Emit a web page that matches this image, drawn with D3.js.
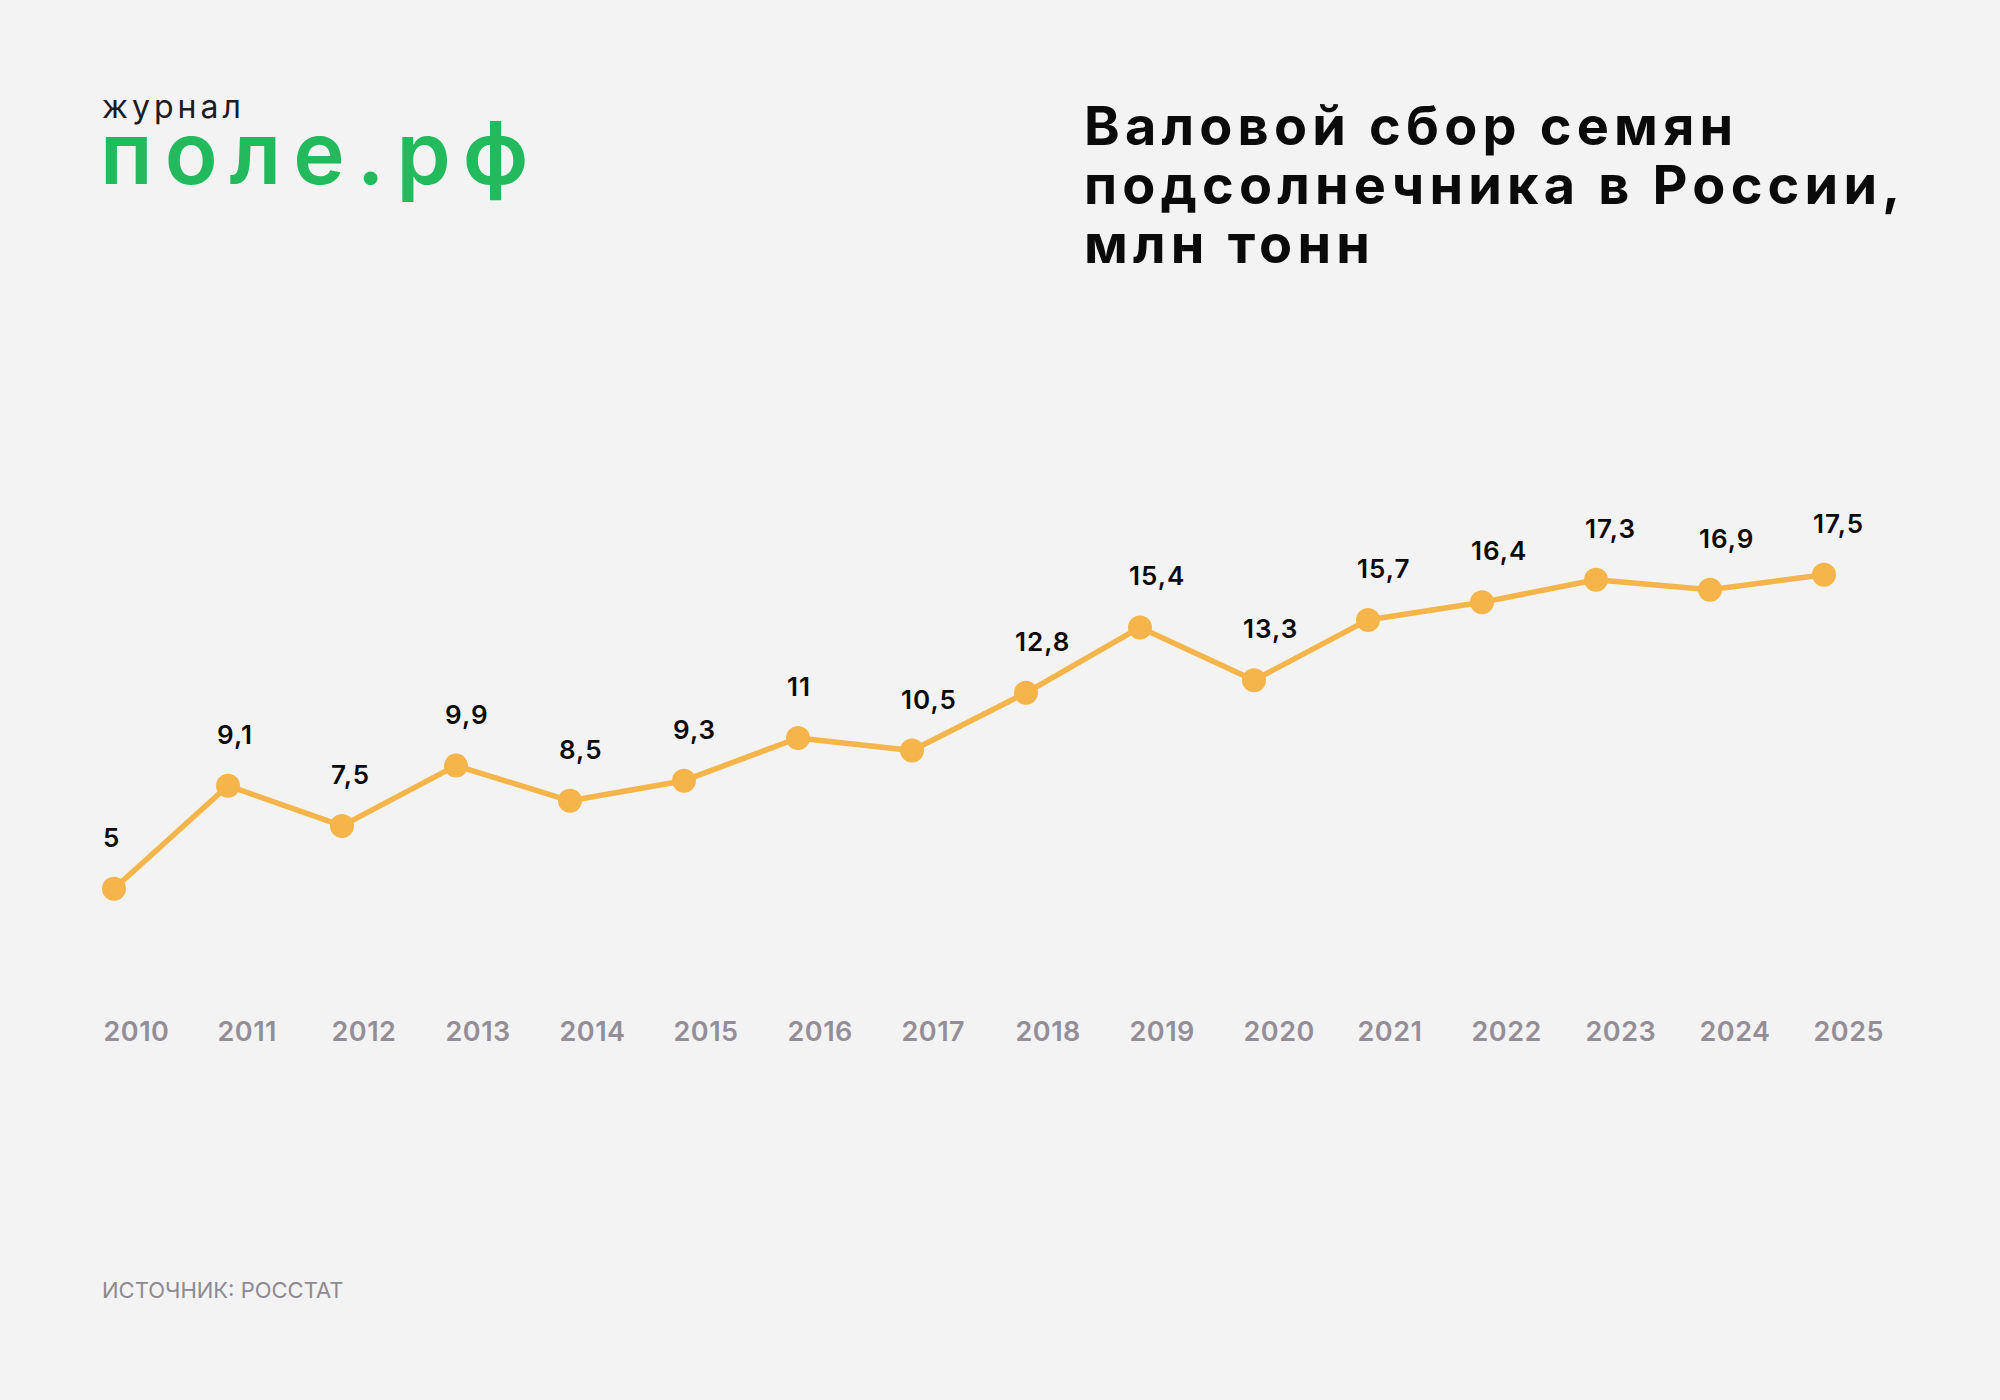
<!DOCTYPE html>
<html>
<head>
<meta charset="utf-8">
<script src="https://cdn.jsdelivr.net/npm/d3@7"></script>
<style>
  body { margin: 0; background: #f3f3f3; }
  svg { display: block; }
</style>
</head>
<body>
<svg id="chart" width="2000" height="1400"></svg>
<script>
const years = [2010, 2011, 2012, 2013, 2014, 2015, 2016, 2017, 2018, 2019, 2020, 2021, 2022, 2023, 2024, 2025];
const values = [5, 9.1, 7.5, 9.9, 8.5, 9.3, 11, 10.5, 12.8, 15.4, 13.3, 15.7, 16.4, 17.3, 16.9, 17.5];
const valueLabels = ["5", "9,1", "7,5", "9,9", "8,5", "9,3", "11", "10,5", "12,8", "15,4", "13,3", "15,7", "16,4", "17,3", "16,9", "17,5"];
const titleLines = ["Валовой сбор семян", "подсолнечника в России,", "млн тонн"];
const sourceText = "ИСТОЧНИК: РОССТАТ";

const svg = d3.select("#chart");
const width = +svg.attr("width");
const height = +svg.attr("height");
const font = "Inter, 'Noto Sans', sans-serif";

svg.append("rect")
    .attr("width", width)
    .attr("height", height)
    .attr("fill", "#f3f3f3");

const data = years.map((year, i) => ({ year, value: values[i], label: valueLabels[i] }));

const xScale = d3.scaleLinear().domain([2010, 2025]).range([114, 1824]);
const yScale = d3.scaleLinear().domain([0, 17.5]).range([1014.3, 574.7]);

// logo
const logo = svg.append("g").attr("font-family", font);
logo.append("text")
    .attr("x", 102)
    .attr("y", 118)
    .attr("font-size", 32)
    .attr("font-weight", 400)
    .attr("letter-spacing", 4)
    .attr("fill", "#1c1c22")
    .text("журнал");
logo.append("text")
    .attr("x", 100)
    .attr("y", 184)
    .attr("font-size", 87)
    .attr("font-weight", 600)
    .attr("letter-spacing", 12)
    .attr("fill", "#22ba5d")
    .text("поле.рф");

// title
svg.append("text")
    .attr("font-family", font)
    .attr("font-size", 54)
    .attr("font-weight", 700)
    .attr("letter-spacing", 5.2)
    .attr("fill", "#0a0a0a")
    .selectAll("tspan")
    .data(titleLines)
    .join("tspan")
    .attr("x", 1084)
    .attr("y", (d, i) => 145 + i * 59)
    .text(d => d);

// line
const lineGen = d3.line()
    .x(d => xScale(d.year))
    .y(d => yScale(d.value));

svg.append("path")
    .datum(data)
    .attr("fill", "none")
    .attr("stroke", "#f5b54b")
    .attr("stroke-width", 5.5)
    .attr("stroke-linejoin", "round")
    .attr("d", lineGen);

svg.append("g")
    .selectAll("circle")
    .data(data)
    .join("circle")
    .attr("cx", d => xScale(d.year))
    .attr("cy", d => yScale(d.value))
    .attr("r", 12)
    .attr("fill", "#f5b54b");

// value labels
svg.append("g")
    .attr("font-family", font)
    .attr("font-size", 26)
    .attr("font-weight", 600)
    .attr("letter-spacing", 1)
    .attr("fill", "#0a0a0a")
    .selectAll("text")
    .data(data)
    .join("text")
    .attr("x", d => xScale(d.year) - 11)
    .attr("y", d => yScale(d.value) - 42)
    .text(d => d.label);

// year labels
const xAxis = d3.axisBottom(xScale)
    .tickValues(years)
    .tickFormat(d3.format("d"))
    .tickSize(0)
    .tickPadding(0);

const axisG = svg.append("g")
    .attr("transform", "translate(0,1041)")
    .call(xAxis);
axisG.select(".domain").remove();
axisG.selectAll("text")
    .attr("font-family", font)
    .attr("font-size", 27)
    .attr("font-weight", 600)
    .attr("letter-spacing", 0.5)
    .attr("fill", "#948e96")
    .attr("text-anchor", "start")
    .attr("dy", 0)
    .attr("x", -11)
    .attr("y", 0);

// source
svg.append("text")
    .attr("x", 102)
    .attr("y", 1298)
    .attr("font-family", font)
    .attr("font-size", 22)
    .attr("font-weight", 400)
    .attr("fill", "#8f8a91")
    .text(sourceText);
</script>
</body>
</html>
